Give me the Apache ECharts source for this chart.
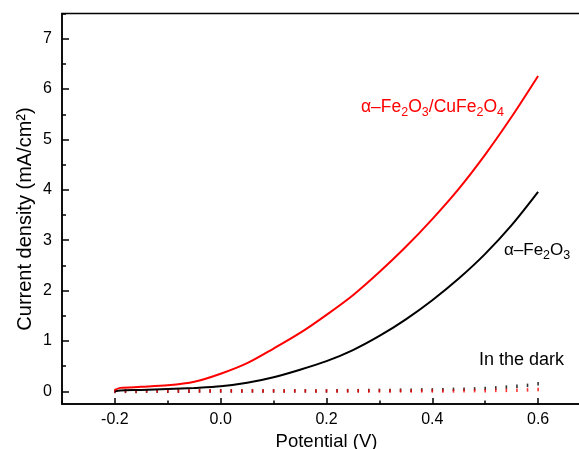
<!DOCTYPE html>
<html>
<head>
<meta charset="utf-8">
<script src="https://cdn.jsdelivr.net/npm/echarts@6/dist/echarts.min.js"></script>
<style>
html,body{margin:0;padding:0;background:#fff;}
#chart{width:579px;height:449px;}
</style>
</head>
<body>
<div id="chart"></div>
<script>
// ---- data ----
var potential = [-0.2, -0.19, -0.15, -0.1, -0.05, 0.0, 0.05, 0.1, 0.15, 0.2, 0.25, 0.3, 0.35, 0.4, 0.45, 0.5, 0.55, 0.6];
var compositeLight = [0.03, 0.07, 0.09, 0.12, 0.19, 0.35, 0.56, 0.85, 1.16, 1.52, 1.91, 2.37, 2.87, 3.42, 4.02, 4.70, 5.45, 6.26];
var hematiteLight = [0.0, 0.02, 0.03, 0.05, 0.07, 0.10, 0.17, 0.28, 0.43, 0.60, 0.82, 1.10, 1.43, 1.81, 2.24, 2.73, 3.30, 3.96];

var darkPotential = [-0.2, -0.18, -0.16, -0.14, -0.12, -0.1, -0.08, -0.06, -0.04, -0.02, 0.0, 0.02, 0.04, 0.06, 0.08, 0.1, 0.12, 0.14, 0.16, 0.18, 0.2, 0.22, 0.24, 0.26, 0.28, 0.3, 0.32, 0.34, 0.36, 0.38, 0.4, 0.42, 0.44, 0.46, 0.48, 0.5, 0.52, 0.54, 0.56, 0.58, 0.6];
var compositeDark = [0.01, 0.01, 0.01, 0.01, 0.01, 0.01, 0.01, 0.01, 0.01, 0.01, 0.01, 0.01, 0.01, 0.01, 0.01, 0.01, 0.01, 0.01, 0.01, 0.01, 0.01, 0.01, 0.01, 0.01, 0.01, 0.01, 0.01, 0.01, 0.01, 0.01, 0.01, 0.01, 0.01, 0.015, 0.015, 0.015, 0.02, 0.02, 0.025, 0.03, 0.04];
var hematiteDark = [0.0, 0.0, 0.0, 0.005, 0.005, 0.005, 0.005, 0.005, 0.01, 0.01, 0.01, 0.01, 0.01, 0.01, 0.01, 0.01, 0.01, 0.01, 0.01, 0.01, 0.01, 0.015, 0.015, 0.015, 0.02, 0.02, 0.02, 0.025, 0.025, 0.03, 0.03, 0.035, 0.04, 0.045, 0.05, 0.06, 0.07, 0.085, 0.10, 0.12, 0.15];

var xMajorTicks = [-0.2, 0.0, 0.2, 0.4, 0.6];
var xMinorTicks = [-0.3, -0.1, 0.1, 0.3, 0.5, 0.7];
var yMajorTicks = [0, 1, 2, 3, 4, 5, 6, 7];
var yMinorTicks = [0.5, 1.5, 2.5, 3.5, 4.5, 5.5, 6.5, 7.5];

var xTitle = 'Potential (V)';
var yTitle = 'Current density (mA/cm\u00B2)';

function zip(xs, ys) { return xs.map(function (x, i) { return [x, ys[i]]; }); }

var FONT = '"Liberation Sans", Arial, sans-serif';
var chart = echarts.init(document.getElementById('chart'));

var xRange = { min: -0.3, max: 0.7 };
var yRange = { min: -0.25, max: 7.5 };

chart.setOption({
  animation: false,
  grid: { left: 62, top: 13.5, width: 529, height: 390.5, show: true, borderColor: '#000', borderWidth: 1.5, outerBoundsMode: 'none', containLabel: false },
  xAxis: [{
    type: 'value', min: xRange.min, max: xRange.max, position: 'bottom',
    axisLine: { show: true, onZero: false, lineStyle: { color: '#000', width: 1.5 } },
    axisTick: { show: true, inside: true, length: 6, customValues: xMajorTicks, lineStyle: { color: '#000', width: 1.5 } },
    axisLabel: { customValues: xMajorTicks, margin: 8, color: '#000', fontFamily: FONT, fontSize: 16, formatter: function (v) { return v.toFixed(1); } },
    splitLine: { show: false },
    name: xTitle, nameLocation: 'middle', nameGap: 27,
    nameTextStyle: { color: '#000', fontFamily: FONT, fontSize: 18.5 }
  }, {
    type: 'value', min: xRange.min, max: xRange.max, position: 'bottom',
    axisLine: { show: false, onZero: false },
    axisTick: { show: true, inside: true, length: 3.5, customValues: xMinorTicks, lineStyle: { color: '#000', width: 1.5 } },
    axisLabel: { show: false }, splitLine: { show: false }
  }],
  yAxis: [{
    type: 'value', min: yRange.min, max: yRange.max, position: 'left',
    axisLine: { show: true, onZero: false, lineStyle: { color: '#000', width: 1.5 } },
    axisTick: { show: true, inside: true, length: 7, customValues: yMajorTicks, lineStyle: { color: '#000', width: 1.5 } },
    axisLabel: { customValues: yMajorTicks, margin: 10, color: '#000', fontFamily: FONT, fontSize: 16 },
    splitLine: { show: false }
  }, {
    type: 'value', min: yRange.min, max: yRange.max, position: 'left',
    axisLine: { show: false, onZero: false },
    axisTick: { show: true, inside: true, length: 4, customValues: yMinorTicks, lineStyle: { color: '#000', width: 1.5 } },
    axisLabel: { show: false }, splitLine: { show: false }
  }],
  series: [
    { type: 'line', name: 'hematite', data: zip(potential, hematiteLight), xAxisIndex: 0, yAxisIndex: 0, showSymbol: false, smooth: 0.3, lineStyle: { color: '#000', width: 2 }, z: 3 },
    { type: 'line', name: 'composite', data: zip(potential, compositeLight), xAxisIndex: 0, yAxisIndex: 0, showSymbol: false, smooth: 0.3, lineStyle: { color: '#ff0000', width: 2 }, z: 4 },
    { type: 'scatter', name: 'hematite dark', data: zip(darkPotential, hematiteDark), xAxisIndex: 0, yAxisIndex: 0, symbol: 'rect', symbolSize: [1.6, 3.5], itemStyle: { color: '#000' }, z: 2 },
    { type: 'scatter', name: 'composite dark', data: zip(darkPotential, compositeDark), xAxisIndex: 0, yAxisIndex: 0, symbol: 'rect', symbolSize: [1.6, 3.5], itemStyle: { color: '#ff0000' }, z: 2 }
  ],
  graphic: [
    { type: 'text', x: 25, y: 219, rotation: Math.PI / 2,
      style: { text: yTitle, font: '20px ' + FONT, fill: '#000', align: 'center', verticalAlign: 'middle' } },
    { type: 'text', x: 361, y: 107,
      style: { text: '{n|\u03B1\u2013Fe}{s|2}{n|O}{s|3}{n|/CuFe}{s|2}{n|O}{s|4}', fill: '#ff0000', align: 'left', verticalAlign: 'middle',
        rich: { n: { fontFamily: FONT, fontSize: 17.5, lineHeight: 24, fill: '#ff0000' }, s: { fontFamily: FONT, fontSize: 12.5, lineHeight: 12, verticalAlign: 'bottom', fill: '#ff0000' } } } },
    { type: 'text', x: 504, y: 250,
      style: { text: '{n|\u03B1\u2013Fe}{s|2}{n|O}{s|3}', fill: '#000', align: 'left', verticalAlign: 'middle',
        rich: { n: { fontFamily: FONT, fontSize: 17, lineHeight: 24, fill: '#000' }, s: { fontFamily: FONT, fontSize: 12.5, lineHeight: 12, verticalAlign: 'bottom', fill: '#000' } } } },
    { type: 'text', x: 479, y: 360,
      style: { text: 'In the dark', font: '18px ' + FONT, fill: '#000', align: 'left', verticalAlign: 'middle' } }
  ]
});
</script>
</body>
</html>
